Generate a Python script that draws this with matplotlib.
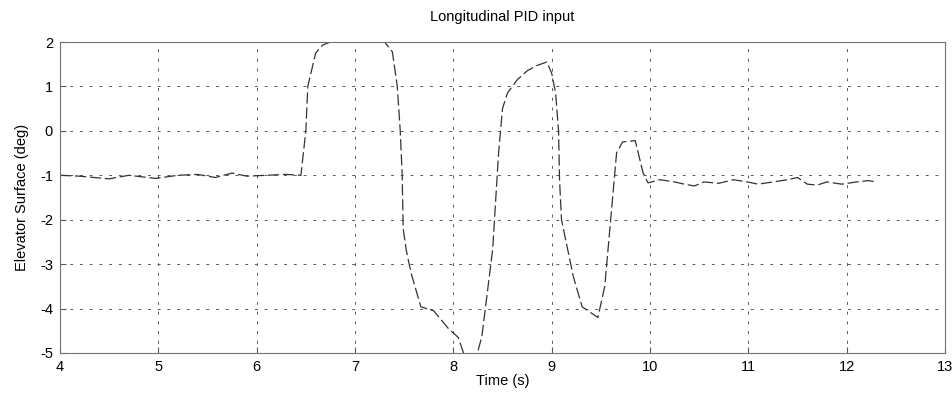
import matplotlib.pyplot as plt
import matplotlib as mpl

mpl.rcParams['font.family'] = ['Liberation Sans', 'DejaVu Sans']
mpl.rcParams['axes.unicode_minus'] = False  # MATLAB style hyphen minus

# elevator command (s, deg)
time_s = [4.0, 4.2, 4.5, 4.7, 4.97, 5.2, 5.4, 5.58, 5.75, 5.9, 6.1, 6.3, 6.45,
          6.5, 6.52, 6.6, 6.67, 6.75, 7.0, 7.3, 7.38, 7.43, 7.46, 7.48, 7.49,
          7.52, 7.57, 7.67, 7.8, 7.95, 8.05, 8.15, 8.22, 8.29, 8.4, 8.46, 8.48,
          8.5, 8.55, 8.65, 8.75, 8.85, 8.95, 9.0, 9.04, 9.07, 9.08, 9.1, 9.22,
          9.31, 9.47, 9.54, 9.6, 9.66, 9.72, 9.85, 9.93, 9.98, 10.1, 10.25,
          10.35, 10.45, 10.55, 10.7, 10.85, 10.99, 11.1, 11.25, 11.4, 11.5,
          11.6, 11.7, 11.8, 11.95, 12.1, 12.22, 12.3]
elevator_deg = [-1.0, -1.02, -1.08, -1.0, -1.07, -1.0, -0.98, -1.05, -0.95,
                -1.02, -1.0, -0.98, -1.0, 0.0, 1.0, 1.75, 1.93, 2.0, 2.0, 2.0,
                1.78, 1.0, 0.0, -1.0, -2.2, -2.67, -3.2, -3.96, -4.05, -4.45,
                -4.65, -5.3, -5.2, -4.63, -2.67, -0.5, 0.0, 0.5, 0.85, 1.15,
                1.35, 1.47, 1.55, 1.3, 0.85, 0.0, -1.1, -2.0, -3.28, -3.96,
                -4.2, -3.5, -2.0, -0.5, -0.25, -0.22, -0.95, -1.17, -1.1,
                -1.15, -1.2, -1.24, -1.15, -1.18, -1.1, -1.15, -1.2, -1.15,
                -1.1, -1.05, -1.2, -1.22, -1.15, -1.2, -1.15, -1.12, -1.15]

x_ticks = [4, 5, 6, 7, 8, 9, 10, 11, 12, 13]
y_ticks = [-5, -4, -3, -2, -1, 0, 1, 2]

fig = plt.figure(figsize=(9.53, 3.98), dpi=100)
ax = fig.add_axes([60/953, 1 - 353/398, 885/953, 311/398])

ax.plot(time_s, elevator_deg, color='0.2', linewidth=0.9,
        linestyle=(0, (9, 3)))

ax.set_xlim(4, 13)
ax.set_ylim(-5, 2)
ax.set_xticks(x_ticks)
ax.set_yticks(y_ticks)
ax.grid(True, color='0.35', linestyle=(0, (3, 7)), linewidth=0.7)
ax.tick_params(direction='in', length=4, labelsize=10.5, color='0.35', pad=5)
for s in ax.spines.values():
    s.set_color('0.45')
    s.set_linewidth(0.8)

ax.set_title('Longitudinal PID input', fontsize=10.5, pad=15)
ax.set_xlabel('Time (s)', fontsize=10.5, labelpad=0)
ax.set_ylabel('Elevator Surface (deg)', fontsize=10.5, labelpad=8)

fig.savefig('out.png', dpi=100)
